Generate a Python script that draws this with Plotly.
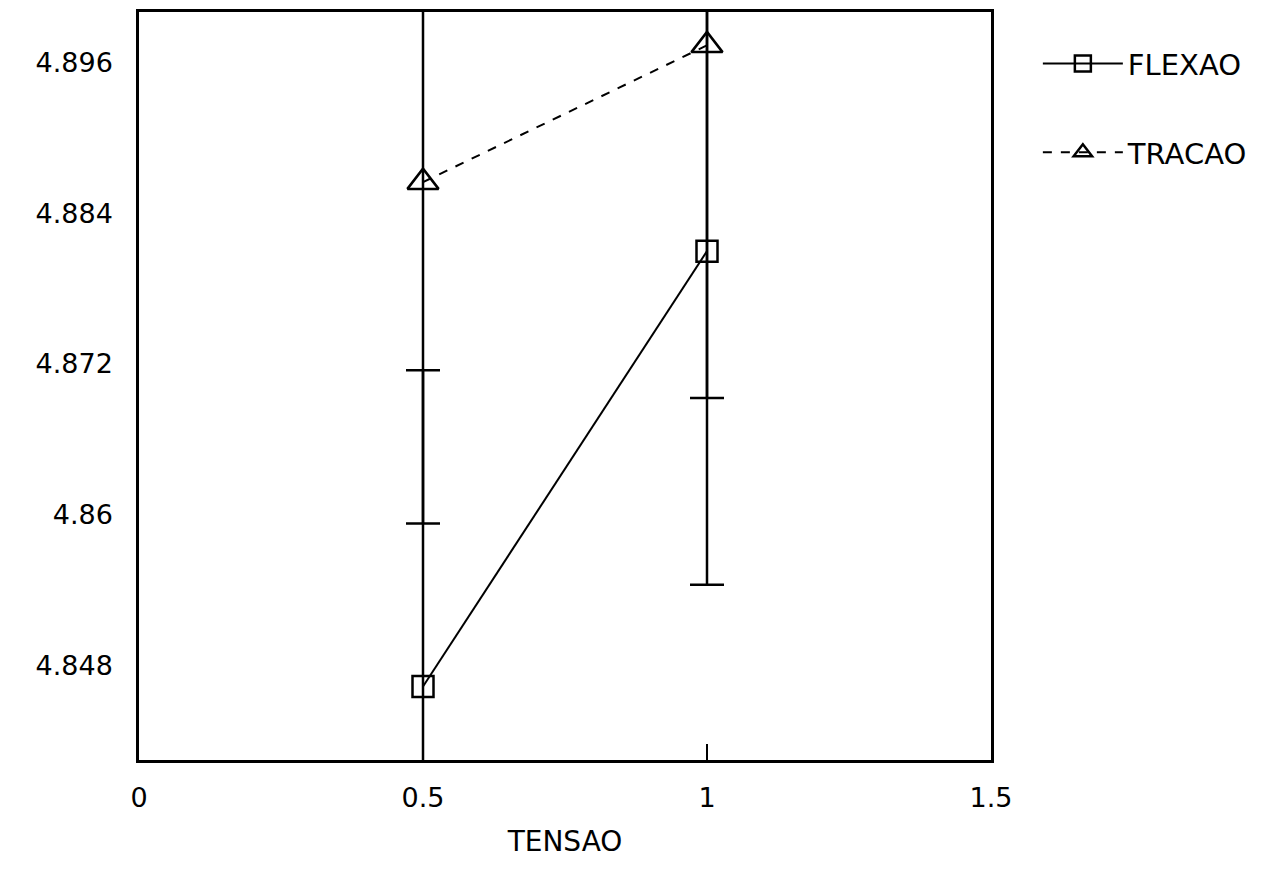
import plotly.graph_objects as go

tensao = [0.5, 1.0]
flexao_y = [4.8463, 4.8810]
flexao_err = [0.0252, 0.0266]
tracao_y = [4.8865, 4.8974]
tracao_err = [0.0272, 0.0281]

x_ticks = [0, 0.5, 1, 1.5]
x_tick_text = ["0", "0.5", "1", "1.5"]
y_ticks = [4.848, 4.86, 4.872, 4.884, 4.896]
y_tick_text = ["4.848", "4.86", "4.872", "4.884", "4.896"]

FONT = "DejaVu Sans, Liberation Sans, sans-serif"

fig = go.Figure()
fig.add_trace(go.Scatter(
    x=tensao, y=flexao_y, name="FLEXAO", mode="lines+markers", legendgroup="a",
    line=dict(color="black", width=2),
    marker=dict(symbol="square-open", size=21, color="black", line=dict(width=2.5)),
    error_y=dict(type="data", array=flexao_err, visible=True, color="black",
                 thickness=2.5, width=17),
))
fig.add_trace(go.Scatter(
    x=tensao, y=tracao_y, name="TRACAO", mode="lines+markers", legendgroup="b",
    line=dict(color="black", width=2, dash="dash"),
    marker=dict(symbol="triangle-up-open", size=27, color="black", line=dict(width=2.5)),
    error_y=dict(type="data", array=tracao_err, visible=True, color="black",
                 thickness=2.5, width=17),
))

fig.update_layout(
    width=1270, height=877,
    margin=dict(l=131, r=287, t=4, b=125),
    paper_bgcolor="white", plot_bgcolor="white",
    font=dict(family=FONT, size=27, color="black"),
    showlegend=True,
    legend=dict(x=1.055, y=0.965, xanchor="left", yanchor="top",
                font=dict(size=29), bgcolor="rgba(0,0,0,0)",
                itemwidth=80, tracegroupgap=48, traceorder="grouped"),
    xaxis=dict(range=[0, 1.5], tickvals=x_ticks, ticktext=x_tick_text,
               showgrid=False, zeroline=False, showline=True, linecolor="black",
               linewidth=2.5, mirror=True, ticks="inside", ticklen=16,
               tickwidth=2, tickcolor="black", automargin=False,
               ticklabelstandoff=12,
               title=dict(text="TENSAO", standoff=20, font=dict(size=28))),
    yaxis=dict(range=[4.84044, 4.90006], tickvals=y_ticks, ticktext=y_tick_text,
               showgrid=False, zeroline=False, showline=True, linecolor="black",
               linewidth=2.5, mirror=True, ticks="", ticklabelstandoff=18,
               automargin=False),
)

fig.write_html("out.html")
